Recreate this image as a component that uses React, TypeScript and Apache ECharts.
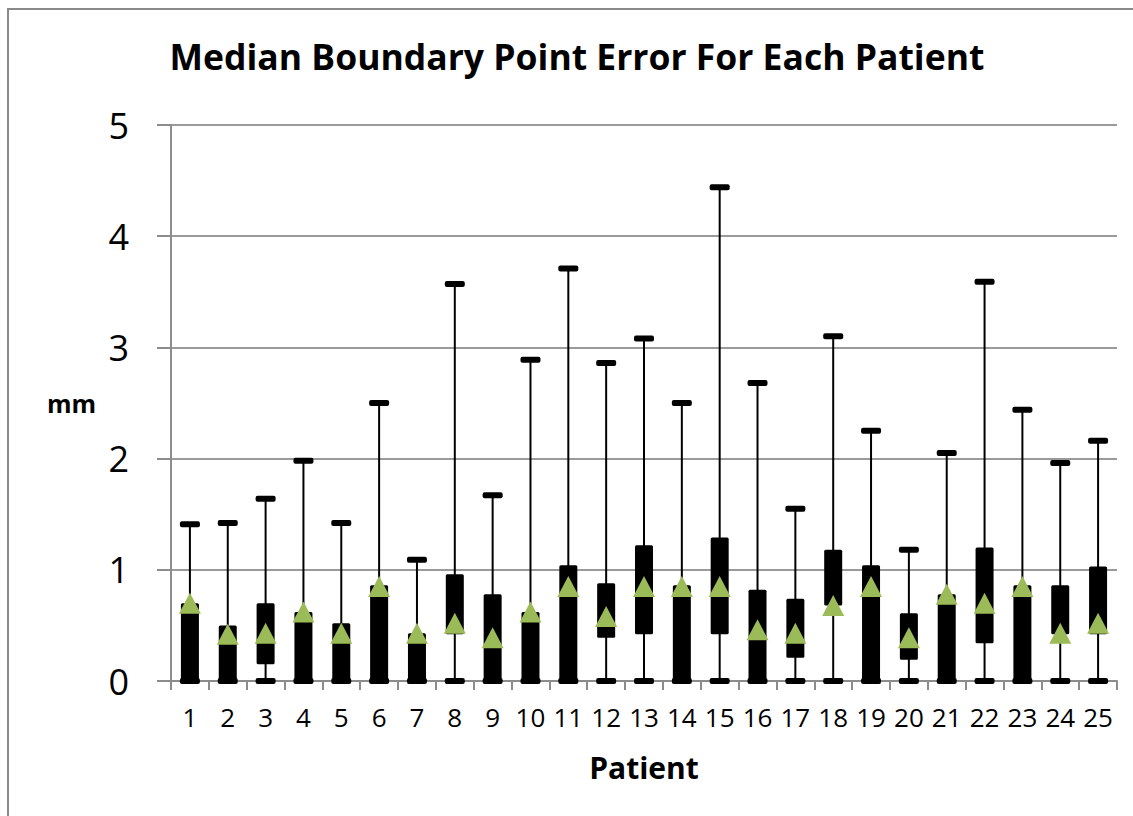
import React, { useEffect, useRef } from "react";
import * as echarts from "echarts";

const patients = ["1","2","3","4","5","6","7","8","9","10","11","12","13","14","15","16","17","18","19","20","21","22","23","24","25"];
const yTicks = [0, 1, 2, 3, 4, 5];
const minVals = [0,0,0,0,0,0,0,0,0,0,0,0,0,0,0,0,0,0,0,0,0,0,0,0,0];
const q1Vals = [0,0,0.15,0,0,0,0,0.42,0,0,0,0.39,0.42,0,0.42,0,0.21,0.68,0,0.19,0,0.34,0,0.42,0.42];
const q3Vals = [0.70,0.50,0.70,0.62,0.52,0.86,0.43,0.96,0.78,0.62,1.04,0.88,1.22,0.86,1.29,0.82,0.74,1.18,1.04,0.61,0.78,1.20,0.86,0.86,1.03];
const maxVals = [1.41,1.42,1.64,1.98,1.42,2.50,1.09,3.57,1.67,2.89,3.71,2.86,3.08,2.50,4.44,2.68,1.55,3.10,2.25,1.18,2.05,3.59,2.44,1.96,2.16];
const medians = [0.70,0.42,0.43,0.62,0.43,0.85,0.43,0.52,0.39,0.62,0.85,0.58,0.85,0.85,0.85,0.46,0.43,0.68,0.85,0.39,0.78,0.70,0.85,0.43,0.52];

const FONT = "'Open Sans', 'DejaVu Sans', sans-serif";

export default function App() {
  const ref = useRef<HTMLDivElement>(null);
  useEffect(() => {
    document.body.style.margin = "0";
    const chart = echarts.init(ref.current!, null, { renderer: "svg" });
    const boxData = patients.map((_, i) => [i, minVals[i], q1Vals[i], q3Vals[i], maxVals[i]]);
    chart.setOption({
      animation: false,
      backgroundColor: "#ffffff",
      title: {
        text: "Median Boundary Point Error For Each Patient",
        left: 572,
        textAlign: "center",
        top: 33,
        textStyle: { fontFamily: FONT, fontWeight: "bold", fontSize: 35.5, color: "#000" },
      },
      graphic: [
        {
          type: "rect",
          shape: { x: 8, y: 9, width: 1200, height: 900 },
          style: { fill: "none", stroke: "#8a8a8a", lineWidth: 2 },
          silent: true,
        },
      ],
      grid: { left: 171, right: 16, top: 125, bottom: 135, containLabel: false },
      xAxis: {
        type: "category",
        data: patients,
        boundaryGap: true,
        name: "Patient",
        nameLocation: "middle",
        nameGap: 71,
        nameTextStyle: { fontFamily: FONT, fontWeight: "bold", fontSize: 30, color: "#000" },
        axisLine: { lineStyle: { color: "#8c8c8c", width: 2 } },
        axisTick: { show: true, length: 9, lineStyle: { color: "#8c8c8c", width: 2 } },
        axisLabel: { fontFamily: FONT, fontSize: 26, color: "#000", margin: 23, interval: 0 },
        splitLine: { show: false },
      },
      yAxis: {
        type: "value",
        min: yTicks[0],
        max: yTicks[yTicks.length - 1],
        interval: 1,
        name: "mm",
        nameLocation: "middle",
        nameRotate: 0,
        nameGap: 75,
        nameTextStyle: { fontFamily: FONT, fontWeight: "bold", fontSize: 25, color: "#000" },
        axisLine: { show: true, lineStyle: { color: "#8c8c8c", width: 2 } },
        axisTick: { show: true, length: 14, lineStyle: { color: "#8c8c8c", width: 2 } },
        axisLabel: { fontFamily: FONT, fontSize: 36, color: "#000", margin: 42 },
        splitLine: { show: true, lineStyle: { color: "#9a9a9a", width: 2 } },
      },
      series: [
        {
          type: "custom",
          data: boxData,
          encode: { x: 0, y: [1, 2, 3, 4] },
          z: 2,
          renderItem: (params: any, api: any) => {
            const idx = api.value(0);
            const pMin = api.coord([idx, api.value(1)]);
            const pQ1 = api.coord([idx, api.value(2)]);
            const pQ3 = api.coord([idx, api.value(3)]);
            const pMax = api.coord([idx, api.value(4)]);
            const x = pMin[0];
            const boxW = 18;
            const capW = 20;
            const capH = 6;
            return {
              type: "group",
              children: [
                {
                  type: "line",
                  shape: { x1: x, y1: pMin[1], x2: x, y2: pMax[1] },
                  style: { stroke: "#000", lineWidth: 2 },
                },
                {
                  type: "rect",
                  shape: { x: x - boxW / 2, y: pQ3[1], width: boxW, height: pQ1[1] - pQ3[1], r: 1.5 },
                  style: { fill: "#000" },
                },
                {
                  type: "rect",
                  shape: { x: x - capW / 2, y: pMax[1] - capH / 2, width: capW, height: capH, r: 2 },
                  style: { fill: "#000" },
                },
                {
                  type: "rect",
                  shape: { x: x - capW / 2, y: pMin[1] - capH / 2, width: capW, height: capH, r: 2 },
                  style: { fill: "#000" },
                },
              ],
            };
          },
        },
        {
          type: "scatter",
          data: medians,
          symbol: "triangle",
          symbolSize: [22, 21],
          z: 5,
          itemStyle: { color: "#9bbb59", opacity: 1 },
        },
      ],
    });
    return () => chart.dispose();
  }, []);
  return <div ref={ref} style={{ width: 1133, height: 816 }} />;
}
